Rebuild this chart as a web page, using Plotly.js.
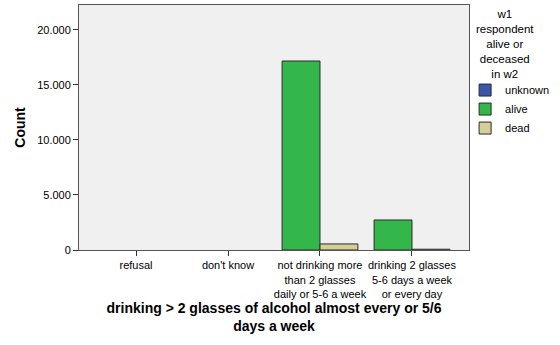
<!DOCTYPE html>
<html>
<head>
<meta charset="utf-8">
<script src="https://cdn.plot.ly/plotly-3.0.1.min.js"></script>
<style>html,body{margin:0;padding:0;background:#fff;}#chart{width:560px;height:345px;}</style>
</head>
<body>
<div id="chart"></div>
<script>
var categories = ["refusal", "don't know", "not drinking more<br>than 2 glasses<br>daily or 5-6 a week", "drinking 2 glasses<br>5-6 days a week<br>or every day"];
var unknownCounts = [null, null, null, null];
var aliveCounts = [null, null, 17180, 2730];
var deadCounts = [null, null, 550, 70];
var seriesNames = ["unknown", "alive", "dead"];
var legendTitle = "w1<br>respondent<br>alive or<br>deceased<br>in w2";
var yTicks = [0, 5000, 10000, 15000, 20000];

var lineStyle = {color: '#2b2b2b', width: 1};
var traces = [
  {type: 'bar', name: seriesNames[0], x: categories, y: unknownCounts, xaxis: 'x2',
   marker: {color: '#3b56a8', line: lineStyle}},
  {type: 'bar', name: seriesNames[1], x: categories, y: aliveCounts,
   marker: {color: '#33b74a', line: lineStyle}},
  {type: 'bar', name: seriesNames[2], x: categories, y: deadCounts,
   marker: {color: '#d4cf98', line: lineStyle}}
];

var layout = {
  width: 560, height: 345,
  margin: {l: 79, r: 91, t: 5, b: 95, autoexpand: false},
  paper_bgcolor: '#ffffff',
  plot_bgcolor: '#f0f0f0',
  separators: ',.',
  font: {family: 'Liberation Sans, Arial, sans-serif', size: 11, color: '#000'},
  barmode: 'group',
  bargap: 0.176,
  bargroupgap: 0,
  showlegend: true,
  legend: {
    x: 0.99, xanchor: 'left', y: 0.712, yanchor: 'top',
    font: {size: 11},
    itemwidth: 30,
    tracegroupgap: 0,
    bgcolor: 'rgba(0,0,0,0)'
  },
  annotations: [{
    text: legendTitle, xref: 'paper', yref: 'paper', x: 1.092, y: 0.995,
    xanchor: 'center', yanchor: 'top', align: 'center', showarrow: false,
    font: {size: 11.5, color: '#000'}
  }],
  xaxis: {
    type: 'category',
    range: [-0.62, 3.62],
    showgrid: false,
    tickangle: 0,
    automargin: false,
    ticks: 'outside', ticklen: 5, tickcolor: '#333', tickwidth: 1,
    showline: true, linecolor: '#555', linewidth: 1, mirror: true,
    tickfont: {size: 11},
    title: {text: '<b>drinking > 2 glasses of alcohol almost every or 5/6<br>days a week</b>', font: {size: 14}, standoff: 2},
    fixedrange: true
  },
  xaxis2: {
    type: 'category', overlaying: 'x', range: [-0.62, 3.62], visible: false, matches: 'x'
  },
  yaxis: {
    range: [0, 22270],
    tickvals: yTicks,
    tickformat: ',d',
    automargin: false,
    showgrid: false, zeroline: false,
    ticks: 'outside', ticklen: 5, tickcolor: '#333', tickwidth: 1,
    showline: true, linecolor: '#555', linewidth: 1, mirror: true,
    tickfont: {size: 11},
    title: {text: '<b>Count</b>', font: {size: 14}, standoff: 8},
    fixedrange: true
  }
};

Plotly.newPlot('chart', traces, layout, {displayModeBar: false, staticPlot: true});
</script>
</body>
</html>
